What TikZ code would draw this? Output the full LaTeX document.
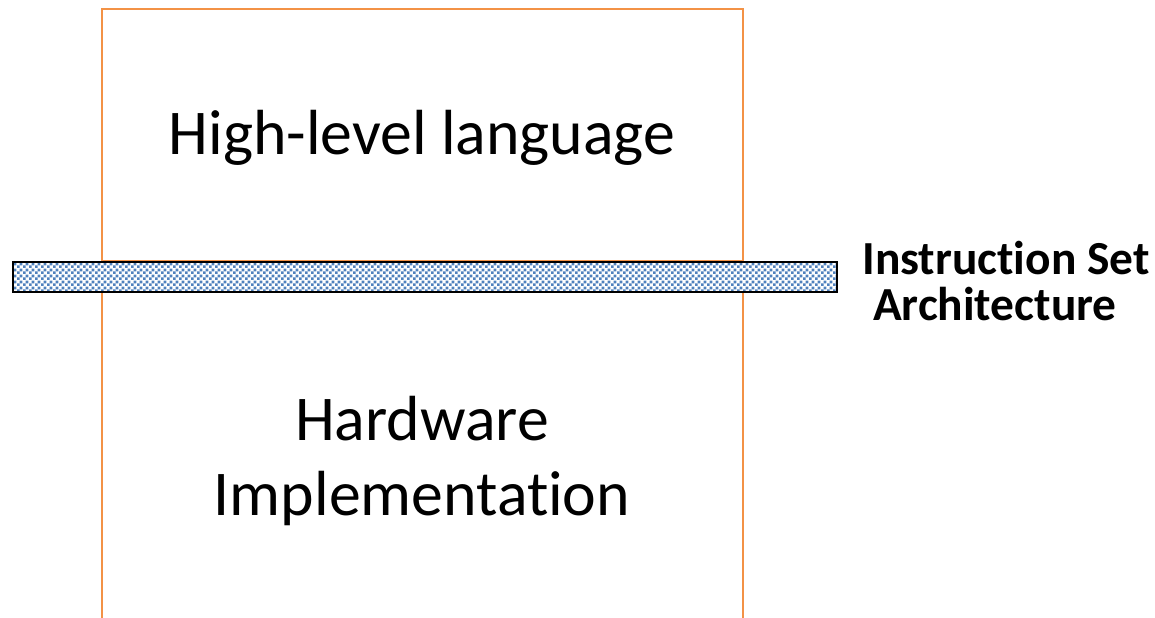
\documentclass[tikz,border=0pt]{standalone}
\usepackage{fontspec}
\setmainfont{Carlito}[Ligatures=NoCommon]
\usetikzlibrary{patterns.meta}
\definecolor{boxorange}{RGB}{243,146,70}
\definecolor{checkblue}{RGB}{79,129,189}
\tikzdeclarepattern{
  name=isachecks, type=uncolored,
  bounding box={(0,0) and (3.2pt,3.2pt)},
  tile size={(3.2pt,3.2pt)},
  code={
    \fill (0,0) rectangle (1.6pt,1.6pt);
    \fill (1.6pt,1.6pt) rectangle (3.2pt,3.2pt);
  }}
\tikzset{
  layerline/.style={draw=boxorange, line width=1.2pt},
  layertext/.style={font=\fontsize{36.3}{42.7}\selectfont, align=center},
  isatext/.style={font=\bfseries\fontsize{27}{26.5}\selectfont, align=left, inner sep=0pt}
}
\begin{document}
\begin{tikzpicture}[x=0.02cm, y=-0.02cm]
      \useasboundingbox (0,0) rectangle (1155,618);
      % layers
      \draw[layerline] (102,618) -- (102,9) -- (743,9) -- (743,618);
      \draw[layerline] (102,261) -- (743,261);
      \draw
        (422,138) node[layertext] (hll){High-level language}
        (422,461) node[layertext] (hw){Hardware\\Implementation};
      % interface bar
      \fill[white] (13,262) rectangle (837,292);
      \fill[pattern={isachecks}, pattern color=checkblue] (13,262) rectangle (837,292);
      \draw[line width=1.6pt] (13,262) rectangle (837,292);
      \node[isatext, anchor=west] (isa) at (862,281) {Instruction Set\\\hspace*{0.226em}Architecture};
    \end{tikzpicture}
\end{document}
